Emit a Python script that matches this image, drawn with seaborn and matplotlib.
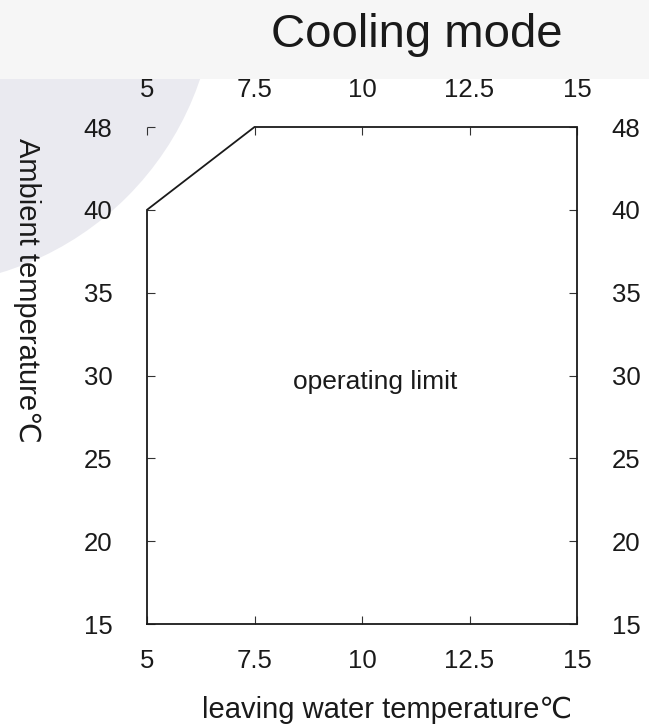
import matplotlib
matplotlib.use("Agg")
import numpy as np
import matplotlib.pyplot as plt
import matplotlib.patches as mpatches
import seaborn as sns

# ---- data ----
water_temp = [5, 5, 7.5, 15, 15, 5]          # leaving water temperature (°C)
ambient_temp = [15, 40, 48, 48, 15, 15]      # ambient temperature (°C)
x_ticks = [5, 7.5, 10, 12.5, 15]
x_tick_labels = ["5", "7.5", "10", "12.5", "15"]
y_ticks = [15, 20, 25, 30, 35, 40, 48]
y_tick_labels = ["15", "20", "25", "30", "35", "40", "48"]
title_text = "Cooling mode"
x_label = "leaving water temperature℃"
y_label = "Ambient temperature℃"
area_label = "operating limit"

sns.set_theme(style="white")
plt.rcParams["font.family"] = ["Liberation Sans", "DejaVu Sans"]

W, H = 649, 727
fig = plt.figure(figsize=(W / 100, H / 100), dpi=100)

# faint background watermark shapes
circ = mpatches.Circle((-88, H + 18), 304, transform=None, color="#eaeaf0",
                       zorder=-10, lw=0)
fig.add_artist(circ)
band = mpatches.Rectangle((0, H - 79), W, 79, transform=None, color="#f6f6f6",
                          zorder=-9, lw=0)
fig.add_artist(band)

ax = fig.add_axes([147 / W, 1 - 624 / H, (577 - 147) / W, (624 - 127) / H])
ax.patch.set_alpha(0)

def fwd(y):
    y = np.asarray(y, dtype=float)
    return np.where(y <= 40, y, 40 + (y - 40) * 5.0 / 8.0)

def inv(v):
    v = np.asarray(v, dtype=float)
    return np.where(v <= 40, v, 40 + (v - 40) * 8.0 / 5.0)

sns.lineplot(x=water_temp, y=ambient_temp, sort=False, estimator=None, ax=ax,
             color="#1a1a1a", linewidth=1.3)
for ln in ax.lines:
    ln.set_clip_on(False)
    ln.set_solid_joinstyle("miter")

ax.set_yscale("function", functions=(fwd, inv))
ax.set_xlim(5, 15)
ax.set_ylim(15, 48)

for s in ax.spines.values():
    s.set_visible(False)

ax.set_xticks(x_ticks)
ax.set_xticklabels(x_tick_labels)
ax.set_yticks(y_ticks)
ax.set_yticklabels(y_tick_labels)
ax.minorticks_off()
ax.tick_params(axis="both", which="both", direction="in", length=6, width=0.8,
               color="#333333", top=True, right=True, bottom=True, left=True,
               labeltop=True, labelright=True, labelsize=18.5,
               labelcolor="#1a1a1a")
ax.tick_params(axis="x", pad=18)
ax.tick_params(axis="y", pad=25)
ax.set_xlabel("")
ax.set_ylabel("")

ax.text(10.31, 29.2, area_label, ha="center", va="baseline", fontsize=19,
        color="#1a1a1a")

fig.text(417 / W, 1 - 47 / H, title_text, ha="center", va="baseline",
         fontsize=34, color="#1a1a1a")
fig.text(387 / W, 1 - 718 / H, x_label, ha="center", va="baseline",
         fontsize=21, color="#1a1a1a")
fig.text(27 / W, 1 - 290 / H, y_label, ha="center", va="center",
         rotation=270, fontsize=21, color="#1a1a1a")

fig.savefig("out.png", dpi=100)
